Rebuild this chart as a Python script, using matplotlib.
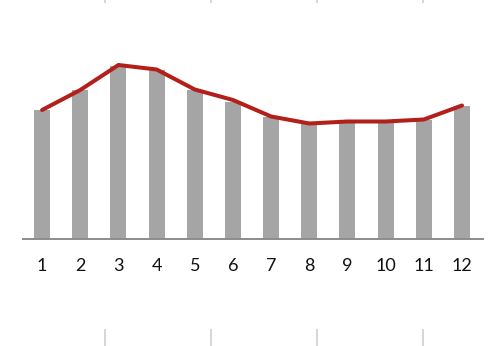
import matplotlib
matplotlib.use("Agg")
import matplotlib.pyplot as plt
from matplotlib.lines import Line2D

months = [1, 2, 3, 4, 5, 6, 7, 8, 9, 10, 11, 12]
bar_values = [128.5, 148.5, 173, 169, 148.5, 137, 122, 114.5, 117, 117, 119, 132.5]
line_values = [128.5, 148.5, 173.5, 169, 149, 138.5, 122, 115, 117, 117, 119, 133]
tick_labels = [str(m) for m in months]

plt.rcParams['font.family'] = ['Lato', 'DejaVu Sans']

fig = plt.figure(figsize=(4.96, 3.46), dpi=100)
ax = fig.add_axes([23 / 496, (346 - 238.5) / 346, 460 / 496, 238.5 / 346])

ax.bar(months, bar_values, width=0.42, color='#a5a5a5', zorder=2)
ax.plot(months, line_values, color='#b3201a', linewidth=2.9,
        solid_capstyle='round', solid_joinstyle='round', zorder=3)

ax.set_xlim(0.5, 12.55)
ax.set_ylim(0, 238.5)
ax.set_xticks(months)
ax.set_xticklabels(tick_labels, fontsize=13, color='#111111')
ax.tick_params(axis='x', length=0, pad=14)
ax.set_yticks([])
for side in ['top', 'right', 'left']:
    ax.spines[side].set_visible(False)
ax.spines['bottom'].set_color('#8c8c8c')
ax.spines['bottom'].set_linewidth(1.4)
ax.patch.set_alpha(0)

# faint separators of the surrounding layout
for xp in [105, 211, 317, 423]:
    xf = xp / 496
    fig.add_artist(Line2D([xf, xf], [0, 16 / 346], color='#d3d3d3', linewidth=1.3))
    fig.add_artist(Line2D([xf, xf], [1 - 2 / 346, 1], color='#d3d3d3', linewidth=1.3))

fig.savefig('out.png', dpi=100)
